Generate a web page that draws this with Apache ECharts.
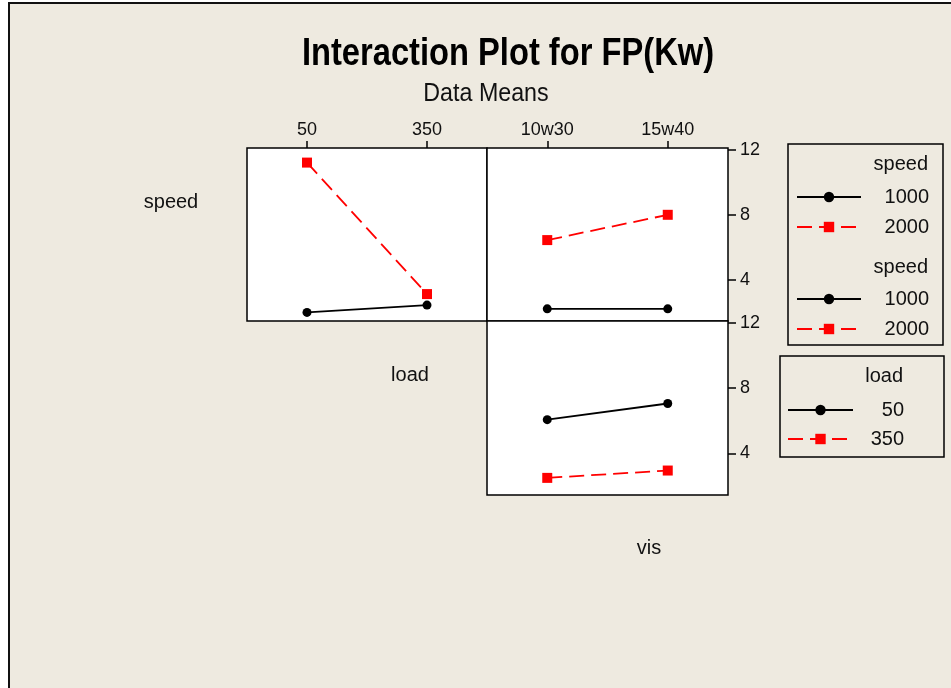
<!DOCTYPE html>
<html>
<head>
<meta charset="utf-8">
<script src="https://cdn.jsdelivr.net/npm/echarts@6/dist/echarts.min.js"></script>
<style>
  html, body { margin: 0; padding: 0; background: #fff; }
  #wrap { position: relative; width: 951px; height: 688px; }
  #paper { position: absolute; left: 8px; top: 2px; right: 0; bottom: 0;
           background: #EEEAE0; border-left: 2px solid #111; border-top: 2px solid #111; }
  #main { position: absolute; left: 0; top: 0; width: 951px; height: 688px; }
</style>
</head>
<body>
<div id="wrap">
  <div id="paper"></div>
  <div id="main"></div>
</div>
<script>
// levels
const loadLevels = ['50', '350'];
const visLevels = ['10w30', '15w40'];
const speedLevels = ['1000', '2000'];
// means of FP(Kw)
const speed1000ByLoad = [1.98, 2.43];
const speed2000ByLoad = [11.22, 3.11];
const speed1000ByVis = [2.2, 2.2];
const speed2000ByVis = [6.44, 8.0];
const load50ByVis = [6.07, 7.06];
const load350ByVis = [2.5, 2.95];
const yTicks = [4, 8, 12];

const font = "'Liberation Sans', Arial, sans-serif";
const yMin = 1.45, yMax = 12.12;

const chart = echarts.init(document.getElementById('main'), null, { renderer: 'canvas' });

const gridBase = { show: true, backgroundColor: '#fff', borderColor: '#000', borderWidth: 1.5, containLabel: false };

function xAx(gridIndex, data, showLabels) {
  return {
    type: 'category', gridIndex: gridIndex, data: data, position: 'top',
    axisLine: { show: false },
    axisTick: { show: showLabels, alignWithLabel: true, length: 7, lineStyle: { color: '#000', width: 1.5 } },
    axisLabel: { show: showLabels, margin: 9, fontSize: 18, color: '#111', fontFamily: font },
    splitLine: { show: false }
  };
}
function yAx(gridIndex, showLabels) {
  return {
    type: 'value', gridIndex: gridIndex, min: yMin, max: yMax, position: 'right',
    axisLine: { show: false },
    axisTick: { show: showLabels, length: 8, customValues: yTicks, lineStyle: { color: '#000', width: 1.5 } },
    axisLabel: { show: showLabels, margin: 12, fontSize: 18, color: '#111', fontFamily: font, customValues: yTicks },
    splitLine: { show: false }
  };
}

const blackLine = { color: '#000', width: 1.8, type: 'solid' };
const redLine = { color: '#FF0000', width: 1.8, type: [15, 7] };

function blackSeries(name, xi, data) {
  return { name: name, type: 'line', xAxisIndex: xi, yAxisIndex: xi, data: data,
    symbol: 'circle', symbolSize: 9, itemStyle: { color: '#000' }, lineStyle: blackLine, z: 3 };
}
function redSeries(name, xi, data) {
  return { name: name, type: 'line', xAxisIndex: xi, yAxisIndex: xi, data: data,
    symbol: 'rect', symbolSize: 10, itemStyle: { color: '#FF0000' }, lineStyle: redLine, z: 3 };
}

function legendOpt(data, left, top, iconW, textW, gap) {
  return {
    data: data, orient: 'vertical', left: left, top: top, padding: 0,
    itemWidth: iconW, itemHeight: 13, itemGap: gap, selectedMode: false,
    formatter: function (n) { return '{t|' + n + '}'; },
    textStyle: { fontSize: 20, color: '#111', fontFamily: font,
      rich: { t: { width: textW, align: 'right', fontSize: 20, fontFamily: font, color: '#111' } } }
  };
}

function txt(text, x, y, size, align, extra) {
  return Object.assign({ type: 'text', x: x, y: y,
    style: { text: text, font: size + 'px ' + font, fill: '#111', align: align, verticalAlign: 'middle' } }, extra || {});
}

chart.setOption({
  backgroundColor: 'transparent',
  animation: false,
  grid: [
    Object.assign({ left: 247, top: 148, width: 240, height: 173 }, gridBase),
    Object.assign({ left: 487, top: 148, width: 241, height: 173 }, gridBase),
    Object.assign({ left: 487, top: 321, width: 241, height: 174 }, gridBase)
  ],
  xAxis: [xAx(0, loadLevels, true), xAx(1, visLevels, true), xAx(2, visLevels, false)],
  yAxis: [yAx(0, false), yAx(1, true), yAx(2, true)],
  legend: [
    legendOpt(speedLevels, 796, 187, 64, 63, 10),
    legendOpt(speedLevels, 796, 289, 64, 63, 10),
    legendOpt(loadLevels, 787, 400, 65, 46, 9)
  ],
  series: [
    blackSeries(speedLevels[0], 0, speed1000ByLoad),
    redSeries(speedLevels[1], 0, speed2000ByLoad),
    blackSeries(speedLevels[0], 1, speed1000ByVis),
    redSeries(speedLevels[1], 1, speed2000ByVis),
    blackSeries(loadLevels[0], 2, load50ByVis),
    redSeries(loadLevels[1], 2, load350ByVis)
  ],
  graphic: [
    txt('Interaction Plot for FP(Kw)', 508, 55, 38, 'center', { scaleX: 0.86, style: { text: 'Interaction Plot for FP(Kw)', font: 'bold 38px ' + font, fill: '#000', align: 'center', verticalAlign: 'middle' } }),
    txt('Data Means', 486, 94, 25, 'center', { scaleX: 0.93 }),
    txt('speed', 171, 202, 20, 'center'),
    txt('load', 410, 375, 20, 'center'),
    txt('vis', 649, 548, 20, 'center'),
    { type: 'rect', shape: { x: 788, y: 144, width: 155, height: 201 }, style: { fill: 'none', stroke: '#000', lineWidth: 1.5 } },
    { type: 'rect', shape: { x: 780, y: 356, width: 164, height: 101 }, style: { fill: 'none', stroke: '#000', lineWidth: 1.5 } },
    txt('speed', 928, 164, 20, 'right'),
    txt('speed', 928, 267, 20, 'right'),
    txt('load', 903, 376, 20, 'right')
  ]
});
</script>
</body>
</html>
